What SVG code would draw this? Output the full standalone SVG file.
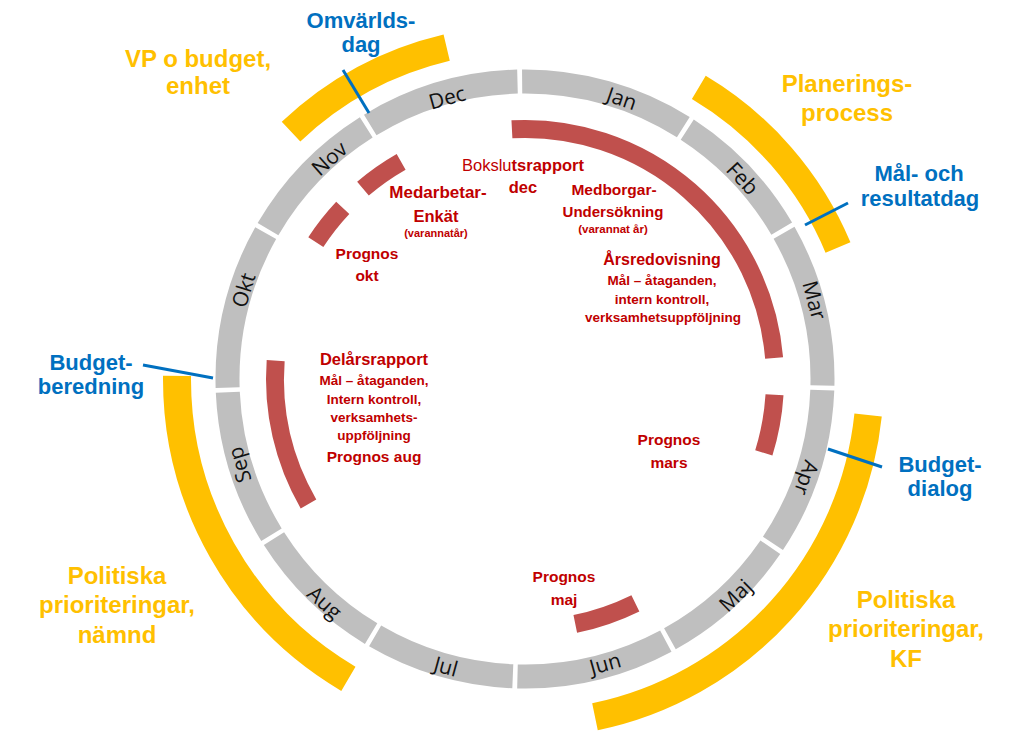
<svg xmlns="http://www.w3.org/2000/svg" width="1030" height="747" viewBox="0 0 1030 747">
<style>
.ring{fill:none;stroke:#BFBFBF;stroke-width:24}
.mon{font-family:"Open Sans","DejaVu Sans",sans-serif;font-size:21px;fill:#111;text-anchor:middle;dominant-baseline:central}
.yarc{fill:none;stroke:#FFC000}
.rarc{fill:none;stroke:#C0504D;stroke-width:18}
.blue{stroke:#0070C0;stroke-width:3;fill:none}
.bt{font-family:"Liberation Sans",Arial,sans-serif;font-weight:bold;font-size:22px;fill:#0070C0;text-anchor:middle}
.yt{font-family:"Liberation Sans",Arial,sans-serif;font-weight:bold;font-size:24px;fill:#FFC000;text-anchor:middle}
.rt{font-family:"Liberation Sans",Arial,sans-serif;font-weight:bold;fill:#C00000;text-anchor:middle}
</style>
<rect width="1030" height="747" fill="#fff"/>
<g id="months">
<g id="m-jan"><path class="ring" d="M522.14,81.51 A297.5,297.5 0 0 1 683.30,127.11"/><text class="mon" transform="translate(622,98) rotate(19)">Jan</text></g>
<g id="m-feb"><path class="ring" d="M687.26,129.64 A297.5,297.5 0 0 1 781.71,228.67"/><text class="mon" transform="translate(743,178) rotate(47.3)">Feb</text></g>
<g id="m-mar"><path class="ring" d="M784.06,232.75 A297.5,297.5 0 0 1 822.43,385.49"/><text class="mon" transform="translate(815,300) rotate(74.8)">Mar</text></g>
<g id="m-apr"><path class="ring" d="M822.29,390.16 A297.5,297.5 0 0 1 772.94,543.43"/><text class="mon" transform="translate(807,478) rotate(109.3)">Apr</text></g>
<g id="m-maj"><path class="ring" d="M770.35,547.30 A297.5,297.5 0 0 1 669.91,638.81"/><text class="mon" transform="translate(735,595) rotate(-44.2)">Maj</text></g>
<g id="m-jun"><path class="ring" d="M665.81,641.07 A297.5,297.5 0 0 1 517.47,676.40"/><text class="mon" transform="translate(605,663) rotate(-15.7)">Jun</text></g>
<g id="m-jul"><path class="ring" d="M512.80,676.25 A297.5,297.5 0 0 1 375.12,635.98"/><text class="mon" transform="translate(446,666) rotate(15.4)">Jul</text></g>
<g id="m-aug"><path class="ring" d="M371.13,633.63 A297.5,297.5 0 0 1 273.97,538.64"/><text class="mon" transform="translate(325,602) rotate(41.9)">Aug</text></g>
<g id="m-sep"><path class="ring" d="M271.47,534.68 A297.5,297.5 0 0 1 227.79,392.24"/><text class="mon" transform="translate(239,465) rotate(-106.7)">Sep</text></g>
<g id="m-okt"><path class="ring" d="M227.62,387.57 A297.5,297.5 0 0 1 265.70,233.17"/><text class="mon" transform="translate(243,290) rotate(-72.5)">Okt</text></g>
<g id="m-nov"><path class="ring" d="M268.02,229.12 A297.5,297.5 0 0 1 366.25,127.40"/><text class="mon" transform="translate(329,158) rotate(-41.6)">Nov</text></g>
<g id="m-dec"><path class="ring" d="M370.24,124.93 A297.5,297.5 0 0 1 517.47,81.60"/><text class="mon" transform="translate(447,97) rotate(-15.5)">Dec</text></g>
</g>
<g id="vp-budget">
<path class="yarc" stroke-width="27" d="M291.04,131.59 A340.5,340.5 0 0 1 446.68,47.63"/>
<text class="yt" x="198" y="67">VP o budget,</text>
<text class="yt" x="198" y="94">enhet</text>
</g>
<g id="planeringsprocess">
<path class="yarc" stroke-width="27" d="M698.82,87.37 A339.5,339.5 0 0 1 837.99,247.44"/>
<text class="yt" x="847" y="92">Planerings-</text>
<text class="yt" x="847" y="121">process</text>
</g>
<g id="politiska-kf">
<path class="yarc" stroke-width="27.5" d="M868.10,415.05 A345,345 0 0 1 594.97,716.82"/>
<text class="yt" x="906" y="608">Politiska</text>
<text class="yt" x="906" y="637">prioriteringar,</text>
<text class="yt" x="906" y="667">KF</text>
</g>
<g id="politiska-namnd">
<path class="yarc" stroke-width="28" d="M348.39,678.84 A348,348 0 0 1 177.01,375.96"/>
<text class="yt" x="117" y="584">Politiska</text>
<text class="yt" x="117" y="613">prioriteringar,</text>
<text class="yt" x="117" y="643">nämnd</text>
</g>
<g id="arsredovisning">
<path class="rarc" d="M511.92,129.34 A250,250 0 0 1 774.12,358.08"/>
<text class="rt" x="662" y="265" font-size="16">Årsredovisning</text>
<text class="rt" x="662" y="285" font-size="13.5">Mål – åtaganden,</text>
<text class="rt" x="662" y="304" font-size="13.5">intern kontroll,</text>
<text class="rt" x="663" y="322" font-size="13.5">verksamhetsuppföljning</text>
</g>
<g id="bokslut">
<text class="rt" x="523" y="171" font-size="16.5"><tspan font-weight="normal">Bokslu</tspan>tsrapport</text>
<text class="rt" x="523" y="193" font-size="16.5">dec</text>
</g>
<g id="medborgar">
<text class="rt" x="614" y="195" font-size="15.5">Medborgar-</text>
<text class="rt" x="613" y="217" font-size="15">Undersökning</text>
<text class="rt" x="613" y="233" font-size="11.5">(varannat år)</text>
</g>
<g id="prognos-mars">
<path class="rarc" d="M774.51,394.70 A250,250 0 0 1 763.82,452.93"/>
<text class="rt" x="669" y="445" font-size="15.5">Prognos</text>
<text class="rt" x="669" y="468" font-size="15.5">mars</text>
</g>
<g id="prognos-maj">
<path class="rarc" d="M635.38,603.32 A250,250 0 0 1 575.27,623.90"/>
<text class="rt" x="564" y="582" font-size="15.5">Prognos</text>
<text class="rt" x="564" y="605" font-size="15.5">maj</text>
</g>
<g id="delarsrapport">
<path class="rarc" d="M308.49,504 A250,250 0 0 1 275.67,360.69"/>
<text class="rt" x="374" y="365" font-size="16.5">Delårsrapport</text>
<text class="rt" x="374" y="385" font-size="13.5">Mål – åtaganden,</text>
<text class="rt" x="374" y="404" font-size="13.5">Intern kontroll,</text>
<text class="rt" x="374" y="422" font-size="13.5">verksamhets-</text>
<text class="rt" x="374" y="440" font-size="13.5">uppföljning</text>
<text class="rt" x="374" y="462" font-size="15.5">Prognos aug</text>
</g>
<g id="medarbetar">
<path class="rarc" d="M362.97,188.61 A250,250 0 0 1 401.13,161.84"/>
<text class="rt" x="438" y="198" font-size="17">Medarbetar-</text>
<text class="rt" x="436" y="222" font-size="16.5">Enkät</text>
<text class="rt" x="436" y="237" font-size="11">(varannatår)</text>
</g>
<g id="prognos-okt">
<path class="rarc" d="M315.81,242.11 A250,250 0 0 1 342.76,207.86"/>
<text class="rt" x="367" y="259" font-size="15.5">Prognos</text>
<text class="rt" x="367" y="281" font-size="15.5">okt</text>
</g>
<g id="omvarldsdag">
<text class="bt" x="361" y="28">Omvärlds-</text>
<text class="bt" x="361" y="52">dag</text>
</g>
<g id="mal-resultatdag">
<text class="bt" x="919" y="181">Mål- och</text>
<text class="bt" x="920" y="206">resultatdag</text>
</g>
<g id="budgetberedning">
<text class="bt" x="91" y="370">Budget-</text>
<text class="bt" x="91" y="394">beredning</text>
</g>
<g id="budgetdialog">
<text class="bt" x="940" y="472">Budget-</text>
<text class="bt" x="940" y="496">dialog</text>
</g>
<g id="connectors">
<line class="blue" x1="343" y1="70" x2="369" y2="113"/>
<line class="blue" x1="805" y1="225" x2="848" y2="203"/>
<line class="blue" x1="143" y1="365" x2="213" y2="378"/>
<line class="blue" x1="828" y1="449" x2="882" y2="467"/>
</g>
</svg>
